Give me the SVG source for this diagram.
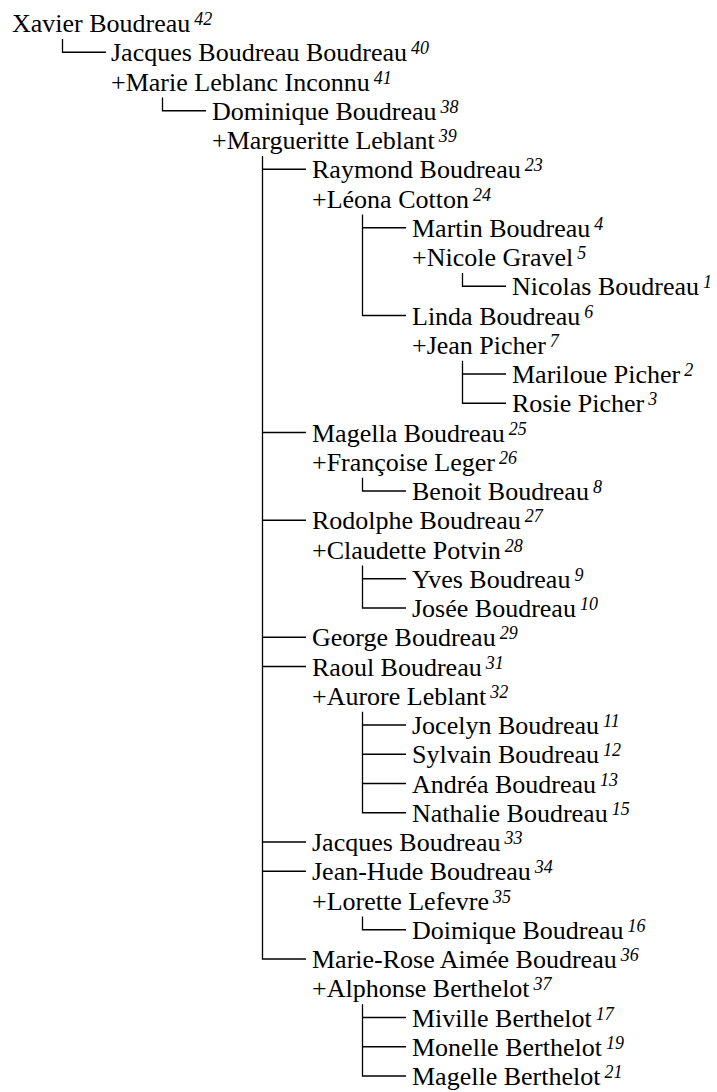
<svg xmlns="http://www.w3.org/2000/svg" width="717" height="1092" viewBox="0 0 717 1092" font-family="Liberation Serif, DejaVu Serif, serif">
<style>
.t{font-family:"Liberation Serif","DejaVu Serif",serif;font-size:26px;fill:#000}
.sup{font-size:18px;font-style:italic}
#connectors path{fill:none;stroke:#000;stroke-width:1.3}
</style>
<rect width="717" height="1092" fill="#fff"/>
<g id="connectors">
<path d="M62.5 39V52.25H106"/>
<path d="M162.5 97.5V110.75H206"/>
<path d="M262.5 156V959H306M262.5 169.25H306M262.5 432.5H306M262.5 520.25H306M262.5 637.25H306M262.5 666.5H306M262.5 842H306M262.5 871.25H306"/>
<path d="M362.5 214.5V315.5H406M362.5 227.75H406"/>
<path d="M462.5 273V286.25H506"/>
<path d="M462.5 360.75V403.25H506M462.5 374H506"/>
<path d="M362.5 477.75V491H406"/>
<path d="M362.5 565.5V608H406M362.5 578.75H406"/>
<path d="M362.5 711.75V812.75H406M362.5 725H406M362.5 754.25H406M362.5 783.5H406"/>
<path d="M362.5 916.5V929.75H406"/>
<path d="M362.5 1004.25V1076H406M362.5 1017.5H406M362.5 1046.75H406"/>
</g>
<g font-family="Liberation Serif" font-size="26">
<g id="n42"><text class="t" x="12" y="32">Xavier Boudreau<tspan class="sup" dx="4" dy="-7">42</tspan></text></g>
<g id="n40"><text class="t" x="111" y="61.25">Jacques Boudreau Boudreau<tspan class="sup" dx="4" dy="-7">40</tspan></text></g>
<g id="n41"><text class="t" x="111" y="90.5">+Marie Leblanc Inconnu<tspan class="sup" dx="4" dy="-7">41</tspan></text></g>
<g id="n38"><text class="t" x="212" y="119.75">Dominique Boudreau<tspan class="sup" dx="4" dy="-7">38</tspan></text></g>
<g id="n39"><text class="t" x="212" y="149">+Margueritte Leblant<tspan class="sup" dx="4" dy="-7">39</tspan></text></g>
<g id="n23"><text class="t" x="312" y="178.25">Raymond Boudreau<tspan class="sup" dx="4" dy="-7">23</tspan></text></g>
<g id="n24"><text class="t" x="312" y="207.5">+Léona Cotton<tspan class="sup" dx="4" dy="-7">24</tspan></text></g>
<g id="n4"><text class="t" x="412" y="236.75">Martin Boudreau<tspan class="sup" dx="4" dy="-7">4</tspan></text></g>
<g id="n5"><text class="t" x="412" y="266">+Nicole Gravel<tspan class="sup" dx="4" dy="-7">5</tspan></text></g>
<g id="n1"><text class="t" x="512" y="295.25">Nicolas Boudreau<tspan class="sup" dx="4" dy="-7">1</tspan></text></g>
<g id="n6"><text class="t" x="412" y="324.5">Linda Boudreau<tspan class="sup" dx="4" dy="-7">6</tspan></text></g>
<g id="n7"><text class="t" x="412" y="353.75">+Jean Picher<tspan class="sup" dx="4" dy="-7">7</tspan></text></g>
<g id="n2"><text class="t" x="512" y="383">Mariloue Picher<tspan class="sup" dx="4" dy="-7">2</tspan></text></g>
<g id="n3"><text class="t" x="512" y="412.25">Rosie Picher<tspan class="sup" dx="4" dy="-7">3</tspan></text></g>
<g id="n25"><text class="t" x="312" y="441.5">Magella Boudreau<tspan class="sup" dx="4" dy="-7">25</tspan></text></g>
<g id="n26"><text class="t" x="312" y="470.75">+Françoise Leger<tspan class="sup" dx="4" dy="-7">26</tspan></text></g>
<g id="n8"><text class="t" x="412" y="500">Benoit Boudreau<tspan class="sup" dx="4" dy="-7">8</tspan></text></g>
<g id="n27"><text class="t" x="312" y="529.25">Rodolphe Boudreau<tspan class="sup" dx="4" dy="-7">27</tspan></text></g>
<g id="n28"><text class="t" x="312" y="558.5">+Claudette Potvin<tspan class="sup" dx="4" dy="-7">28</tspan></text></g>
<g id="n9"><text class="t" x="412" y="587.75">Yves Boudreau<tspan class="sup" dx="4" dy="-7">9</tspan></text></g>
<g id="n10"><text class="t" x="412" y="617">Josée Boudreau<tspan class="sup" dx="4" dy="-7">10</tspan></text></g>
<g id="n29"><text class="t" x="312" y="646.25">George Boudreau<tspan class="sup" dx="4" dy="-7">29</tspan></text></g>
<g id="n31"><text class="t" x="312" y="675.5">Raoul Boudreau<tspan class="sup" dx="4" dy="-7">31</tspan></text></g>
<g id="n32"><text class="t" x="312" y="704.75">+Aurore Leblant<tspan class="sup" dx="4" dy="-7">32</tspan></text></g>
<g id="n11"><text class="t" x="412" y="734">Jocelyn Boudreau<tspan class="sup" dx="4" dy="-7">11</tspan></text></g>
<g id="n12"><text class="t" x="412" y="763.25">Sylvain Boudreau<tspan class="sup" dx="4" dy="-7">12</tspan></text></g>
<g id="n13"><text class="t" x="412" y="792.5">Andréa Boudreau<tspan class="sup" dx="4" dy="-7">13</tspan></text></g>
<g id="n15"><text class="t" x="412" y="821.75">Nathalie Boudreau<tspan class="sup" dx="4" dy="-7">15</tspan></text></g>
<g id="n33"><text class="t" x="312" y="851">Jacques Boudreau<tspan class="sup" dx="4" dy="-7">33</tspan></text></g>
<g id="n34"><text class="t" x="312" y="880.25">Jean-Hude Boudreau<tspan class="sup" dx="4" dy="-7">34</tspan></text></g>
<g id="n35"><text class="t" x="312" y="909.5">+Lorette Lefevre<tspan class="sup" dx="4" dy="-7">35</tspan></text></g>
<g id="n16"><text class="t" x="412" y="938.75">Doimique Boudreau<tspan class="sup" dx="4" dy="-7">16</tspan></text></g>
<g id="n36"><text class="t" x="312" y="968">Marie-Rose Aimée Boudreau<tspan class="sup" dx="4" dy="-7">36</tspan></text></g>
<g id="n37"><text class="t" x="312" y="997.25">+Alphonse Berthelot<tspan class="sup" dx="4" dy="-7">37</tspan></text></g>
<g id="n17"><text class="t" x="412" y="1026.5">Miville Berthelot<tspan class="sup" dx="4" dy="-7">17</tspan></text></g>
<g id="n19"><text class="t" x="412" y="1055.75">Monelle Berthelot<tspan class="sup" dx="4" dy="-7">19</tspan></text></g>
<g id="n21"><text class="t" x="412" y="1085">Magelle Berthelot<tspan class="sup" dx="4" dy="-7">21</tspan></text></g>
</g>
</svg>
